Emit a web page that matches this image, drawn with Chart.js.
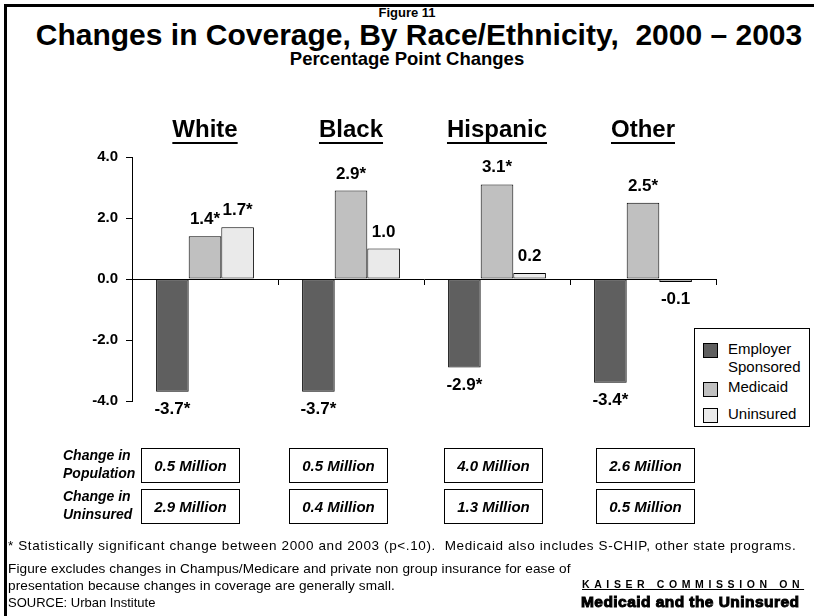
<!DOCTYPE html>
<html><head><meta charset="utf-8">
<script src="https://cdn.jsdelivr.net/npm/chart.js@4.4.1/dist/chart.umd.min.js"></script>
<style>
html,body{margin:0;padding:0;background:#fff;}
body{width:814px;height:616px;position:relative;overflow:hidden;font-family:"Liberation Sans",Arial,sans-serif;color:#000;}
#frame{position:absolute;left:4px;top:4px;width:830px;height:630px;border-top:3px solid #000;border-left:3px solid #000;}
#wrap{position:absolute;left:0;top:0;width:814px;height:616px;}
.t{position:absolute;white-space:nowrap;}
.ctr{text-align:center;font-weight:bold;width:814px;}
.box{position:absolute;border:1px solid #000;box-sizing:border-box;text-align:center;font-weight:bold;font-style:italic;font-size:15px;background:#fff;}
.rowlab{position:absolute;font-weight:bold;font-style:italic;font-size:14px;line-height:18px;white-space:nowrap;}
#legend{position:absolute;left:694px;top:328px;width:116px;height:99px;border:1px solid #000;box-sizing:border-box;background:#fff;font-size:15px;}
.sw{position:absolute;left:8px;width:15px;height:15px;border:1px solid #000;box-sizing:border-box;}
.lt{position:absolute;left:33px;line-height:18px;white-space:nowrap;}
.foot{position:absolute;left:8px;font-size:13.6px;line-height:16px;white-space:nowrap;}
</style></head>
<body>
<div id="frame"></div>
<div class="t ctr" style="left:0;top:5px;font-size:13px;line-height:16px;">Figure 11</div>
<div class="t ctr" style="left:12px;top:18px;font-size:30px;line-height:34px;">Changes in Coverage, By Race/Ethnicity,&nbsp; 2000 – 2003</div>
<div class="t ctr" style="left:0;top:48px;font-size:18.5px;line-height:22px;">Percentage Point Changes</div>
<div id="wrap"><canvas id="c" width="814" height="616"></canvas></div>
<div id="legend"></div>
<div id="rows"></div>
<div class="foot" style="top:538px;font-size:13.5px;letter-spacing:0.62px;">* Statistically significant change between 2000 and 2003 (p&lt;.10).&nbsp; Medicaid also includes S-CHIP, other state programs.</div>
<div class="foot" style="top:561px;letter-spacing:0.1px;">Figure excludes changes in Champus/Medicare and private non group insurance for ease of</div>
<div class="foot" style="top:578px;letter-spacing:0.1px;">presentation because changes in coverage are generally small.</div>
<div class="foot" style="top:595px;font-size:13px;">SOURCE: Urban Institute</div>
<div class="t" style="left:582px;top:578px;font-size:10.5px;font-weight:bold;letter-spacing:4.6px;line-height:13px;text-decoration:underline;">KAISER COMMISSION ON</div>
<div class="t" style="left:581px;top:592px;font-size:15.5px;font-weight:bold;line-height:19px;-webkit-text-stroke:1px #000;letter-spacing:0.45px;">Medicaid and the Uninsured</div>
<script>
const categories = ['White', 'Black', 'Hispanic', 'Other'];
const seriesNames = [['Employer', 'Sponsored'], ['Medicaid'], ['Uninsured']];
const employer = [-3.7, -3.7, -2.9, -3.4];
const medicaid = [1.4, 2.9, 3.1, 2.5];
const uninsured = [1.7, 1.0, 0.2, -0.1];
const employerSig = [true, true, true, true];
const medicaidSig = [true, true, true, true];
const uninsuredSig = [true, false, false, false];
const popChange = ['0.5 Million', '0.5 Million', '4.0 Million', '2.6 Million'];
const uninsChange = ['2.9 Million', '0.4 Million', '1.3 Million', '0.5 Million'];
const rowLabels = [['Change in', 'Population'], ['Change in', 'Uninsured']];
const colors = ['#5f5f5f', '#c0c0c0', '#eaeaea'];

const FONT = '"Liberation Sans", Arial, sans-serif';

// bottom rows
const boxLefts = [141, 289, 444, 596];
const rowTops = [448, 489];
const rowsEl = document.getElementById('rows');
[popChange, uninsChange].forEach((arr, r) => {
  const lab = document.createElement('div');
  lab.className = 'rowlab';
  lab.style.left = '63px';
  lab.style.top = (rowTops[r] - 2) + 'px';
  lab.innerHTML = rowLabels[r].join('<br>');
  rowsEl.appendChild(lab);
  arr.forEach((txt, i) => {
    const b = document.createElement('div');
    b.className = 'box';
    b.style.left = boxLefts[i] + 'px';
    b.style.top = rowTops[r] + 'px';
    b.style.width = '99px';
    b.style.height = '35px';
    b.style.lineHeight = '33px';
    b.textContent = txt;
    rowsEl.appendChild(b);
  });
});

// legend
const leg = document.getElementById('legend');
const swTops = [14, 53, 79];
const txtTops = [17, 55, 82];
seriesNames.forEach((nm, i) => {
  const s = document.createElement('div');
  s.className = 'sw'; s.style.top = swTops[i] + 'px'; s.style.background = colors[i];
  leg.appendChild(s);
  const t = document.createElement('div');
  t.className = 'lt'; t.style.top = (txtTops[i] - 6) + 'px';
  t.innerHTML = nm.join('<br>');
  leg.appendChild(t);
});

const valueLabels = {
  id: 'valueLabels',
  afterDatasetsDraw(chart) {
    const ctx = chart.ctx;
    ctx.save();
    ctx.font = 'bold 17px ' + FONT;
    ctx.fillStyle = '#000';
    ctx.textAlign = 'center';
    chart.data.datasets.forEach((ds, i) => {
      chart.getDatasetMeta(i).data.forEach((bar, j) => {
        const v = ds.data[j];
        const txt = v.toFixed(1) + (ds.sig[j] ? '*' : '');
        if (v >= 0) { ctx.textBaseline = 'alphabetic'; ctx.fillText(txt, bar.x, bar.y - 12); }
        else { ctx.textBaseline = 'top'; ctx.fillText(txt, bar.x, bar.y + 9); }
      });
    });
    ctx.restore();
  }
};

const underline = {
  id: 'underline',
  afterDraw(chart) {
    const sc = chart.scales.x;
    const ctx = chart.ctx;
    ctx.save();
    ctx.font = 'bold 24px ' + FONT;
    ctx.fillStyle = '#000';
    sc.ticks.forEach((tk, i) => {
      const x = sc.getPixelForTick(i);
      const w = ctx.measureText(categories[i]).width;
      ctx.fillRect(x - w / 2, 142, w, 2);
    });
    ctx.restore();
  }
};

new Chart(document.getElementById('c'), {
  type: 'bar',
  data: {
    labels: categories,
    datasets: [
      { label: seriesNames[0].join(' '), data: employer, sig: employerSig, backgroundColor: colors[0] },
      { label: seriesNames[1].join(' '), data: medicaid, sig: medicaidSig, backgroundColor: colors[1] },
      { label: seriesNames[2].join(' '), data: uninsured, sig: uninsuredSig, backgroundColor: colors[2] }
    ].map(d => Object.assign(d, { borderColor: '#000', borderWidth: 1, borderSkipped: false, xAxisID: 'x', yAxisID: 'y', categoryPercentage: 0.67, barPercentage: 1.0 }))
  },
  options: {
    responsive: false,
    animation: false,
    layout: { padding: { left: 0, top: 0, right: 98, bottom: 215 } },
    plugins: { legend: { display: false }, tooltip: { enabled: false } },
    scales: {
      x: {
        type: 'category', position: 'top', offset: true,
        grid: { display: false, drawTicks: false },
        border: { display: false },
        ticks: { font: { family: FONT, size: 24, weight: 'bold' }, color: '#000', padding: 12, maxRotation: 0, autoSkip: false },
        afterFit(s) { s.height = 157; }
      },
      x2: {
        type: 'category', labels: categories, position: { y: 0 }, offset: true,
        grid: { display: true, offset: true, drawOnChartArea: false, drawTicks: true, tickLength: 5, color: '#000', lineWidth: 1 },
        border: { display: true, color: '#000', width: 1 },
        ticks: { display: false }
      },
      y: {
        min: -4, max: 4,
        ticks: { stepSize: 2, callback: v => v.toFixed(1), font: { family: FONT, size: 15, weight: 'bold' }, color: '#000', padding: 8 },
        grid: { drawOnChartArea: false, tickLength: 6, color: '#000' },
        border: { color: '#000', width: 1 },
        afterFit(s) { s.width = 132; }
      }
    }
  },
  plugins: [valueLabels, underline]
});
</script>
</body></html>
